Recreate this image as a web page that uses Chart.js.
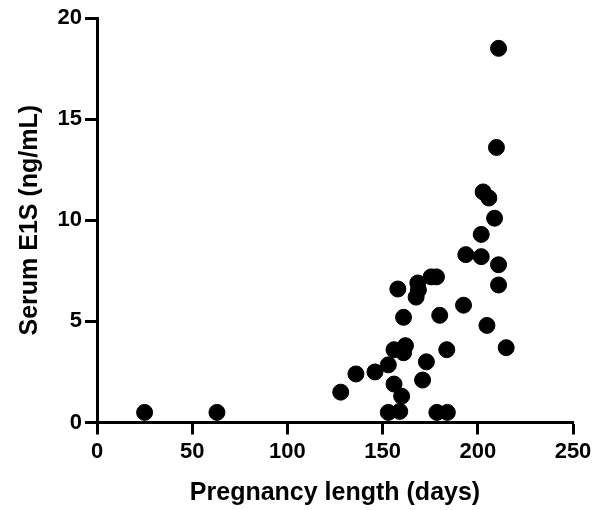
<!DOCTYPE html>
<html>
<head>
<meta charset="utf-8">
<script src="https://cdn.jsdelivr.net/npm/chart.js@4"></script>
<style>
    html, body { margin: 0; padding: 0; background: #fff; }
    #wrap { width: 607px; height: 510px; }
</style>
</head>
<body>
<div id="wrap"><canvas id="chart" width="607" height="510"></canvas></div>
<script>
// pregnancy length (days) vs serum E1S (ng/mL)
const pregnancyDays = [
    25, 63, 128, 136, 146, 153, 156, 162, 161, 156,
    160, 153, 159, 158, 161, 168.5, 168.8, 167.6, 175.5, 178.3,
    180, 173, 171, 183.7, 178.5, 184, 192.5, 193.7, 201.8, 210.9,
    210.9, 204.8, 214.9, 210.9, 209.8, 202.8, 205.8, 208.8, 201.8
];
const serumE1S = [
    0.5, 0.5, 1.5, 2.4, 2.5, 2.85, 3.6, 3.8, 3.45, 1.9,
    1.3, 0.5, 0.55, 6.6, 5.2, 6.9, 6.55, 6.2, 7.2, 7.2,
    5.3, 3.0, 2.1, 3.6, 0.5, 0.5, 5.8, 8.3, 8.2, 7.8,
    6.8, 4.8, 3.7, 18.5, 13.6, 11.4, 11.1, 10.1, 9.3
];
const xTicks = [0, 50, 100, 150, 200, 250];
const yTicks = [0, 5, 10, 15, 20];

const points = pregnancyDays.map((d, i) => ({ x: d, y: serumE1S[i] }));

const tickFont = { family: "'Liberation Sans', Arial, sans-serif", size: 22, weight: 'bold' };
const titleFont = { family: "'Liberation Sans', Arial, sans-serif", size: 25, weight: 'bold' };

const axisCommon = {
    border: { display: true, color: '#000', width: 3 },
    grid: {
        display: true,
        drawOnChartArea: false,
        drawTicks: true,
        tickLength: 12,
        tickWidth: 3,
        tickColor: '#000'
    }
};

new Chart(document.getElementById('chart').getContext('2d'), {
    type: 'scatter',
    data: {
        datasets: [{
            data: points,
            backgroundColor: '#000',
            borderColor: '#000',
            pointRadius: 8,
            pointHoverRadius: 8,
            clip: false
        }]
    },
    options: {
        responsive: false,
        animation: false,
        layout: { padding: { left: 0, right: 34, top: 18, bottom: 0 } },
        plugins: { legend: { display: false }, tooltip: { enabled: false } },
        scales: {
            x: {
                ...axisCommon,
                type: 'linear',
                min: 0,
                max: 250,
                afterBuildTicks: s => { s.ticks = xTicks.map(v => ({ value: v })); },
                afterFit: s => { s.height = 87.5; },
                ticks: { color: '#000', font: tickFont, padding: 4, maxRotation: 0 },
                title: {
                    display: true,
                    text: 'Pregnancy length (days)',
                    color: '#000',
                    font: titleFont,
                    padding: { top: 0, bottom: 2 }
                }
            },
            y: {
                ...axisCommon,
                type: 'linear',
                min: 0,
                max: 20,
                afterBuildTicks: s => { s.ticks = yTicks.map(v => ({ value: v })); },
                afterFit: s => { s.width = 97; },
                ticks: { color: '#000', font: tickFont, padding: 3 },
                title: {
                    display: true,
                    text: 'Serum E1S (ng/mL)',
                    color: '#000',
                    font: titleFont,
                    padding: { top: 15, bottom: 0 }
                }
            }
        }
    }
});
</script>
</body>
</html>
